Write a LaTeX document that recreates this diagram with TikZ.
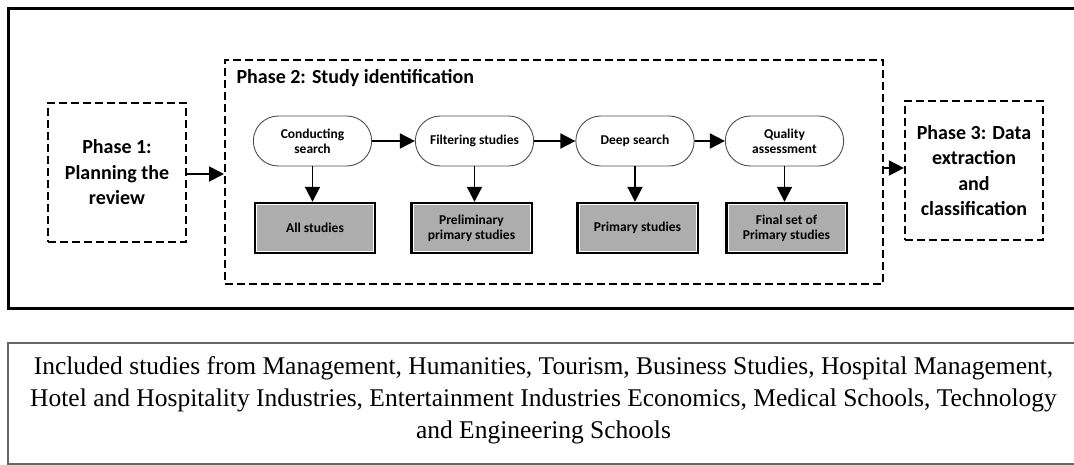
\documentclass[tikz,border=0pt]{standalone}
\usepackage{fontspec}
\setmainfont{Liberation Serif}
\newfontfamily\calib{Carlito}
\usetikzlibrary{arrows.meta,shapes.misc}
\begin{document}
\begin{tikzpicture}[x=1pt,y=-1pt,
  frame/.style={draw=black,line width=2.6pt},
  phasebox/.style={draw=black,line width=2.2pt,dash pattern=on 8pt off 4pt,align=center,
    font=\calib\fontsize{20}{25.5}\selectfont\bfseries},
  pill/.style={draw=black!70,line width=0.9pt,rounded rectangle,minimum width=125pt,
    minimum height=50pt,align=center,font=\calib\fontsize{13.5}{15}\selectfont\bfseries},
  result/.style={draw=black,line width=2.4pt,fill=black!32,minimum width=120pt,
    minimum height=50pt,align=center,font=\calib\fontsize{13.5}{15}\selectfont\bfseries},
  flow/.style={line width=1.9pt,-{Triangle[length=15pt,width=15pt]}}]
\useasboundingbox (0,0) rectangle (1074,464);
\clip (0,0) rectangle (1074,464);

% outer frame around the three phases
\node[frame,minimum width=1080pt,minimum height=300pt,anchor=north west] (outer) at (7,7) {};

% phase 2 container
\node[phasebox,minimum width=658pt,minimum height=224pt,anchor=north west] (p2) at (224,59) {};
\node[anchor=west,font=\calib\fontsize{20}{22}\selectfont\bfseries] (p2title) at (233,78) {Phase 2: Study identification};

% phase 1 and phase 3
\node[phasebox,minimum width=138pt,minimum height=139pt] (p1) at (117,172.5) {Phase 1:\\Planning the\\review};
\node[phasebox,minimum width=138pt,minimum height=139pt] (p3) at (974,170.5) {Phase 3: Data\\extraction\\and\\classification};

% search steps
\node[pill] (s1) at (312.5,141) {Conducting\\search};
\node[pill] (s2) at (474.5,141) {Filtering studies};
\node[pill] (s3) at (635,141) {Deep search};
\node[pill] (s4) at (784.5,141) {Quality\\assessment};

% outcomes of each step
\node[result] (r1) at (315,228) {All studies};
\node[result] (r2) at (471.5,228) {Preliminary\\primary studies};
\node[result] (r3) at (637.5,228) {Primary studies};
\node[result] (r4) at (786.5,228) {Final set of\\Primary studies};
\foreach \r in {r1,r2,r3,r4}{
  \draw[white,line width=0.8pt] ([shift={(2.6pt,-2.6pt)}]\r.north west) rectangle ([shift={(-2.6pt,2.6pt)}]\r.south east);
}

% connectors
\draw[flow] (p1.east |- 0,174) -- (p2.west |- 0,174);
\draw[flow] (p2.east |- 0,168) -- (p3.west |- 0,168);
\draw[flow] (s1) -- (s2);
\draw[flow] (s2) -- (s3);
\draw[flow] (s3) -- (s4);
\draw[flow] (s1.south) -- (s1.south |- r1.north);
\draw[flow] (s2.south) -- (s2.south |- r2.north);
\draw[flow] (s3.south) -- (s3.south |- r3.north);
\draw[flow] (s4.south) -- (s4.south |- r4.north);

% included disciplines
\node[draw=black!60,line width=1.8pt,minimum width=1080pt,minimum height=121pt,anchor=north west] (notebox) at (7,342) {};
\node[align=center,font=\fontsize{25.5}{32}\selectfont] (note) at (543.5,400)
 {Included studies from Management, Humanities, Tourism, Business Studies, Hospital Management,\\
  Hotel and Hospitality Industries, Entertainment Industries Economics, Medical Schools, Technology\\
  and Engineering Schools};
\end{tikzpicture}
\end{document}
